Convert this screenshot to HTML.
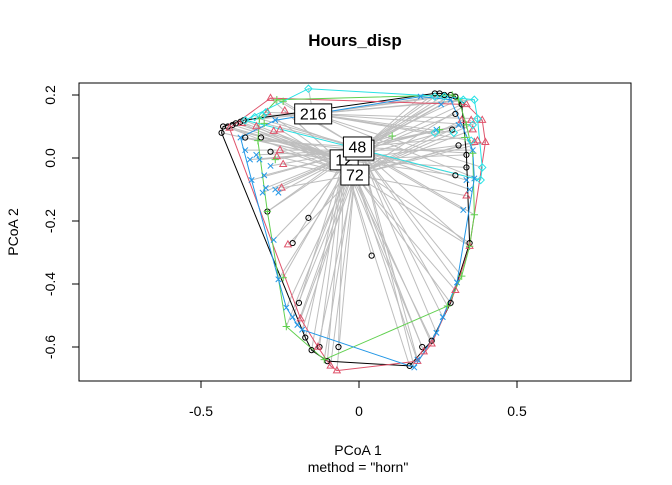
<!DOCTYPE html>
<html><head><meta charset="utf-8"><style>
body{margin:0;background:#fff}
svg text{font-family:"Liberation Sans",sans-serif}
</style></head><body>
<svg id="chart" width="672" height="480" xmlns="http://www.w3.org/2000/svg">
<rect width="672" height="480" fill="#fff"/>
<text x="355" y="46" text-anchor="middle" font-size="17" font-weight="bold">Hours_disp</text>
<text x="358" y="455" text-anchor="middle" font-size="14">PCoA 1</text>
<text x="358" y="472" text-anchor="middle" font-size="14">method = "horn"</text>
<text transform="translate(18,232) rotate(-90)" text-anchor="middle" font-size="14">PCoA 2</text>
<g id="plot"></g>
<rect x="79" y="83" width="552" height="298" fill="none" stroke="#000"/>
</svg>
<script>
const xTicks=[-0.5,0,0.5];
const yTicks=[0.2,0.0,-0.2,-0.4,-0.6];
const yTickLabels=["0.2","0.0","-0.2","-0.4","-0.6"];
const groupNames=["12","72","48","24","216"];
const groupColors=["#000000","#DF536B","#61D04F","#2297E6","#28E2E5"];
const groupShapes=["circle","triangle","plus","cross","diamond"];
const centroidX=[-0.047,-0.013,-0.005,0.003,-0.145];
const centroidY=[-0.006,-0.054,0.035,0.025,0.14];
const ptsBlack=[[-0.43,0.10],[-0.415,0.10],[-0.40,0.105],[-0.39,0.11],[-0.375,0.115],[-0.365,0.12],[-0.435,0.08],[-0.36,0.065],[-0.31,0.065],[-0.28,0.02],[-0.29,-0.17],[-0.16,-0.19],[-0.21,-0.27],[0.04,-0.31],[-0.19,-0.46],[-0.17,-0.57],[-0.15,-0.61],[-0.125,-0.60],[-0.065,-0.60],[-0.10,-0.645],[0.16,-0.66],[0.20,-0.60],[0.23,-0.58],[0.29,-0.46],[0.35,-0.27],[0.24,0.205],[0.255,0.205],[0.27,0.20],[0.29,0.20],[0.305,0.195],[0.325,0.17],[0.305,0.14],[0.295,0.09],[0.315,0.04],[0.305,-0.055],[0.34,-0.03],[0.34,0.01]];
const ptsRed=[[-0.41,0.095],[-0.37,0.11],[-0.325,0.10],[-0.29,0.145],[-0.28,0.19],[-0.235,0.15],[-0.25,0.09],[-0.27,0.085],[-0.25,0.025],[-0.26,0.005],[-0.24,-0.02],[-0.245,-0.095],[-0.225,-0.275],[-0.185,-0.51],[-0.13,-0.60],[-0.09,-0.66],[-0.07,-0.675],[0.185,-0.645],[0.205,-0.615],[0.23,-0.59],[0.305,-0.42],[0.35,-0.28],[0.34,-0.12],[0.40,0.05],[0.365,0.05],[0.375,0.055],[0.36,0.09],[0.355,0.12],[0.34,0.17],[0.39,0.12],[0.325,0.12]];
const ptsGreen=[[-0.30,0.11],[-0.26,0.185],[-0.24,0.18],[-0.315,0.125],[-0.32,0.055],[-0.265,-0.005],[-0.29,-0.17],[-0.24,-0.38],[-0.23,-0.535],[-0.11,-0.64],[0.28,-0.47],[0.325,-0.375],[0.35,-0.28],[0.365,-0.18],[0.36,0.015],[0.335,0.065],[0.315,0.185],[0.295,0.20],[0.105,0.07],[0.255,0.09],[0.34,0.105]];
const ptsBlue=[[-0.375,0.065],[-0.36,0.025],[-0.345,-0.005],[-0.315,-0.005],[-0.28,-0.025],[-0.34,-0.07],[-0.30,-0.055],[-0.295,-0.095],[-0.325,0.01],[-0.265,-0.10],[-0.255,-0.11],[-0.305,-0.11],[-0.265,0.12],[-0.27,-0.26],[-0.255,-0.385],[-0.23,-0.475],[-0.21,-0.505],[-0.195,-0.53],[-0.18,-0.545],[0.175,-0.665],[0.185,-0.64],[0.245,-0.555],[0.265,-0.505],[0.31,-0.395],[0.33,-0.165],[0.34,-0.07],[0.365,-0.065],[0.35,-0.10],[0.315,0.105],[0.36,0.025],[0.26,0.17],[0.245,0.09],[0.195,0.195],[0.29,0.185]];
const ptsCyan=[[-0.16,0.22],[-0.295,0.145],[-0.33,0.13],[-0.36,0.12],[-0.305,0.135],[0.24,0.195],[0.27,0.195],[0.375,0.125],[0.36,0.105],[0.365,0.185],[0.33,0.185],[0.24,0.08],[0.39,-0.03],[0.385,-0.07],[0.355,0.055],[0.30,0.08]];
const groupPoints=[ptsBlack,ptsRed,ptsGreen,ptsBlue,ptsCyan];

const X=v=>359+v*316, Y=v=>158-v*315;
const NS="http://www.w3.org/2000/svg";
const svg=document.getElementById('chart'), plot=document.getElementById('plot');
function mk(tag,attrs,parent){const e=document.createElementNS(NS,tag);for(const k in attrs)e.setAttribute(k,attrs[k]);(parent||plot).appendChild(e);return e;}
// axes
xTicks.forEach(t=>{
 const l=mk('line',{x1:X(t),x2:X(t),y1:381,y2:388,stroke:'#000'},svg);
 
 
 const tx=mk('text',{x:X(t),y:416,'text-anchor':'middle','font-size':14},svg);tx.textContent=String(t);
 
 
});
mk('line',{x1:X(-0.5),x2:X(0.5),y1:381,y2:381,stroke:'#000'},svg);
yTicks.forEach((t,i)=>{
 const l=mk('line',{x1:72,x2:79,y1:Y(t),y2:Y(t),stroke:'#000'},svg);
 
 
 const tx=mk('text',{transform:`translate(55,${Y(t)}) rotate(-90)`,'text-anchor':'middle','font-size':14},svg);tx.textContent=yTickLabels[i];
 
 
});
// segments
groupPoints.forEach((pts,g)=>pts.forEach(p=>{
 const l=mk('line',{x1:X(p[0]),y1:Y(p[1]),x2:X(centroidX[g]),y2:Y(centroidY[g]),stroke:'#BEBEBE','stroke-width':1});
 
 
}));
// hulls
function hull(P){P=P.slice().sort((a,b)=>a[0]-b[0]||a[1]-b[1]);const cr=(o,a,b)=>(a[0]-o[0])*(b[1]-o[1])-(a[1]-o[1])*(b[0]-o[0]);
 const lo=[],up=[];for(const p of P){while(lo.length>=2&&cr(lo[lo.length-2],lo[lo.length-1],p)<=0)lo.pop();lo.push(p);}
 for(let i=P.length-1;i>=0;i--){const p=P[i];while(up.length>=2&&cr(up[up.length-2],up[up.length-1],p)<=0)up.pop();up.push(p);}
 return lo.slice(0,-1).concat(up.slice(0,-1));}
groupPoints.forEach((pts,g)=>{
 const h=hull(pts);
 const pg=mk('polygon',{points:h.map(p=>X(p[0])+','+Y(p[1])).join(' '),fill:'none',stroke:groupColors[g],'stroke-width':1});
 
 
});
// points
groupPoints.forEach((pts,g)=>pts.forEach(p=>{
 const x=X(p[0]),y=Y(p[1]),c=groupColors[g];let e;
 switch(groupShapes[g]){
  case 'circle':e=mk('circle',{cx:x,cy:y,r:2.6,fill:'none',stroke:c});break;
  case 'triangle':e=mk('polygon',{points:`${x},${y-3.8} ${x-3.4},${y+2.2} ${x+3.4},${y+2.2}`,fill:'none',stroke:c});break;
  case 'plus':e=mk('path',{d:`M${x-3.7},${y}H${x+3.7}M${x},${y-3.7}V${y+3.7}`,stroke:c});break;
  case 'cross':e=mk('path',{d:`M${x-2.7},${y-2.7}L${x+2.7},${y+2.7}M${x-2.7},${y+2.7}L${x+2.7},${y-2.7}`,stroke:c});break;
  default:e=mk('polygon',{points:`${x},${y-3.6} ${x+3.6},${y} ${x},${y+3.6} ${x-3.6},${y}`,fill:'none',stroke:c});
 }
 
 
}));
// centroid labels
const order=[0,3,2,1,4];
order.forEach(g=>{
 const x=X(centroidX[g]),y=Y(centroidY[g]),w=groupNames[g].length*9+10;
 const gg=mk('g',{});
 
 
 mk('rect',{x:x-w/2,y:y-10,width:w,height:20,fill:'#fff',stroke:'#000'},gg);
 const t=mk('text',{x:x,y:y+5.5,'text-anchor':'middle','font-size':16},gg);t.textContent=groupNames[g];
});
</script>
</body></html>
